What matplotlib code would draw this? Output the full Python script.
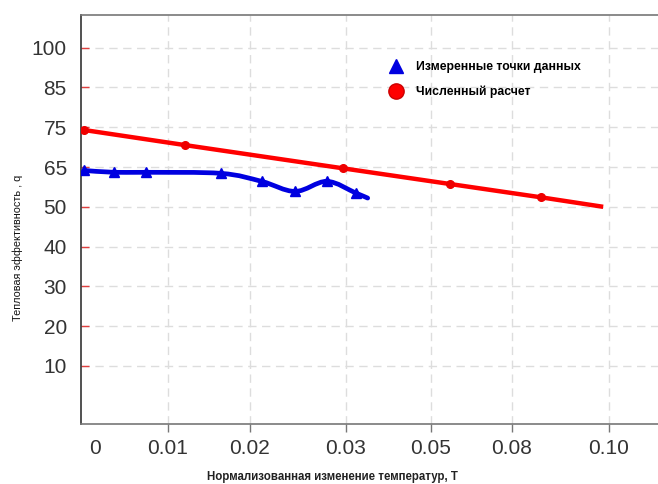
import numpy as np
import matplotlib
matplotlib.use("Agg")
import matplotlib.pyplot as plt
from matplotlib.path import Path
from matplotlib.patches import PathPatch
from matplotlib.lines import Line2D

plt.rcParams['font.family'] = ['Liberation Sans', 'DejaVu Sans']

# Axis tick values (unevenly spaced on the page)
x_ticks = [0.0, 0.01, 0.02, 0.03, 0.05, 0.08, 0.10]
x_tick_labels = ["0", "0.01", "0.02", "0.03", "0.05", "0.08", "0.10"]
y_ticks = [10, 20, 30, 40, 50, 65, 75, 85, 100]
y_tick_labels = ["10", "20", "30", "40", "50", "65", "75", "85", "100"]

# Measured data points
meas_T = [-0.0015, 0.0026, 0.0070, 0.0165, 0.0212, 0.0247, 0.0280, 0.0323, 0.0351]
meas_q = [63.7, 63.0, 63.0, 62.6, 59.6, 55.8, 59.6, 55.2, 53.3]

# Numerical calculation
calc_T = [-0.0015, 0.0121, 0.0297, 0.0570, 0.0859, 0.0988]
calc_q = [74.3, 70.5, 64.5, 58.6, 53.6, 50.0]

# Page positions of the x ticks and index positions of the y ticks
x_tick_pos = [95, 168, 250, 346, 431, 512, 609]
y_tick_pos = list(range(len(y_ticks)))


def piecewise(v, xp, fp):
    v = np.asarray(v, dtype=float)
    out = np.interp(v, xp, fp)
    lo_slope = (fp[1] - fp[0]) / (xp[1] - xp[0])
    hi_slope = (fp[-1] - fp[-2]) / (xp[-1] - xp[-2])
    out = np.where(v < xp[0], fp[0] + (v - xp[0]) * lo_slope, out)
    out = np.where(v > xp[-1], fp[-1] + (v - xp[-1]) * hi_slope, out)
    return out


def x_fwd(v):
    return piecewise(v, x_ticks, x_tick_pos)


def x_inv(p):
    return piecewise(p, x_tick_pos, x_ticks)


def y_fwd(v):
    return piecewise(v, y_ticks, y_tick_pos)


def y_inv(p):
    return piecewise(p, y_tick_pos, y_ticks)


fig = plt.figure(figsize=(6.58, 4.84), dpi=100)
ax = fig.add_axes([80.7 / 658, 60 / 484, (661 - 80.7) / 658, 409 / 484])

ax.set_xscale('function', functions=(x_fwd, x_inv))
ax.set_yscale('function', functions=(y_fwd, y_inv))
ax.set_xlim(x_inv(80.7), x_inv(661))
ax.set_ylim(y_inv(-1.458), y_inv(8.82))

# Smooth curve through the measured points (Catmull-Rom as cubic Beziers,
# built in scaled coordinates so the curve is smooth on the page)
px = x_fwd(meas_T)
py = y_fwd(meas_q)
P = np.column_stack([px, py])
verts = [P[0]]
codes = [Path.MOVETO]
for i in range(len(P) - 1):
    p0 = P[i - 1] if i > 0 else P[i]
    p1 = P[i]
    p2 = P[i + 1]
    p3 = P[i + 2] if i + 2 < len(P) else P[i + 1]
    c1 = p1 + (p2 - p0) / 6.0
    c2 = p2 - (p3 - p1) / 6.0
    verts += [c1, c2, p2]
    codes += [Path.CURVE4] * 3
verts = np.array(verts)
verts_data = np.column_stack([x_inv(verts[:, 0]), y_inv(verts[:, 1])])
curve = PathPatch(Path(verts_data, codes), fill=False, edgecolor='#0000e0',
                  lw=3.4, capstyle='round', joinstyle='round', zorder=3,
                  transform=ax.transData)
ax.add_patch(curve)
ax.plot(meas_T[:-1], meas_q[:-1], linestyle='none', marker='^', ms=7,
        color='#0000e0', zorder=4)

# Numerical line
ax.plot(calc_T, calc_q, color='#ff0000', lw=3.2, solid_capstyle='butt', zorder=3)
ax.plot(calc_T[:-1], calc_q[:-1], linestyle='none', marker='o', ms=5.5,
        color='#ee0000', zorder=4)

# Ticks and grid
ax.set_xticks(x_ticks)
ax.set_xticklabels(x_tick_labels)
ax.set_yticks(y_ticks)
ax.set_yticklabels(y_tick_labels)
ax.minorticks_off()
ax.tick_params(axis='x', direction='out', length=5.5, width=1, color='#777777',
               labelsize=15, labelcolor='#333333', pad=5.5)
ax.tick_params(axis='y', direction='in', length=6, width=1, color='#e04040',
               labelsize=15, labelcolor='#333333', pad=10)
ax.grid(True, color='#dddddd', lw=1, linestyle=(0, (6, 4)))
t0 = ax.xaxis.get_major_ticks()[0]
t0.tick1line.set_visible(False)
t0.gridline.set_visible(False)

for side in ['top', 'bottom']:
    ax.spines[side].set_color('#777777')
    ax.spines[side].set_linewidth(1.2)
ax.spines['left'].set_color('#333333')
ax.spines['left'].set_linewidth(1.2)
ax.spines['right'].set_visible(False)

# Labels
fig.text(332 / 658, 1 - 477 / 484, "Нормализованная изменение температур, T",
         ha='center', va='center', fontsize=8.3, fontweight='bold', color='#222222')
fig.text(18 / 658, 1 - 248 / 484, "Тепловая эффективность , q",
         ha='center', va='center', rotation=90, fontsize=7.8, color='#111111')

# Legend
handles = [
    Line2D([], [], linestyle='none', marker='^', ms=10, color='#0000e0'),
    Line2D([], [], linestyle='none', marker='o', ms=11, color='#ff0000',
           markeredgecolor='#cc0000'),
]
labels = ["Измеренные точки данных", "Численный расчет"]
ax.legend(handles, labels, loc='upper left',
          bbox_to_anchor=(383 / 658, 1 - 55 / 484), bbox_transform=fig.transFigure,
          frameon=False, handlelength=1.2, handletextpad=1.0, labelspacing=1.05,
          borderpad=0, prop={'size': 8.8, 'weight': 'bold'})

fig.savefig("out.png", dpi=100)
